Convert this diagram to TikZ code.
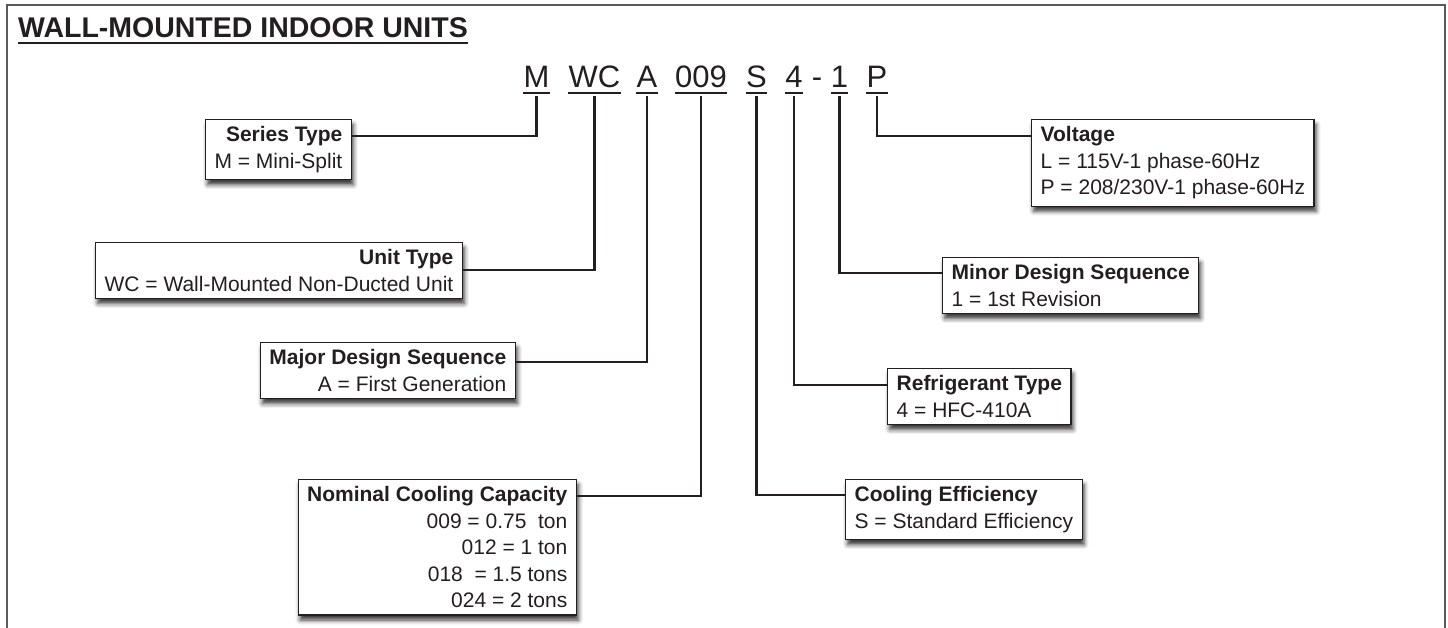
\documentclass[tikz,border=0pt]{standalone}
\usepackage{fontspec}
\setmainfont{Liberation Sans}
\usepackage{xcolor}
\definecolor{ink}{RGB}{35, 31, 32}
\definecolor{framegray}{RGB}{90, 90, 90}
\usepackage{tikz}
\usetikzlibrary{calc, positioning, shadows.blur}

\begin{document}
\begin{tikzpicture}[x=1pt, y=-1pt,
  code/.style={font=\fontsize{31}{31}\selectfont, text=ink, inner xsep=0pt, inner ysep=8pt, anchor=base},
  uline/.style={draw=ink, line width=2.4pt},
  link/.style={draw=ink, line width=2.4pt},
  infobox/.style={draw=ink, line width=1.3pt, fill=white, text=ink, inner xsep=9pt, inner ysep=7pt,
    font=\fontsize{21}{26.5}\selectfont,
    blur shadow={shadow xshift=2pt, shadow yshift=-5pt, shadow blur radius=4.5pt, shadow opacity=80}},
  infoL/.style={infobox, align=right, anchor=north east},
  infoR/.style={infobox, align=left, anchor=north west}]
  \useasboundingbox (0,0) rectangle (1448,628);
  % frame, open at the bottom
  \draw[framegray, line width=2pt] (7,628) -- (7,5) -- (1445,5) -- (1445,628);
  % heading
  \node[font=\fontsize{28.5}{28.5}\selectfont\bfseries, text=ink, inner sep=0pt, anchor=base west] (title) at (18,38) {WALL-MOUNTED INDOOR UNITS};
  \draw[uline] ([yshift=-5pt]title.base west) -- ([yshift=-5pt]title.base east);
  % model number
  \foreach \nm/\txt/\xx in {M/M/536.5, WC/WC/594.5, A/A/647, cap/009/701, S/S/756.5, four/4/794, one/1/839.5, P/P/877} {
    \node[code] (c\nm) at (\xx,88) {\txt};
    \draw[uline] ([yshift=-5pt]c\nm.base west) -- ([yshift=-5pt]c\nm.base east);
  }
  \node[code] (cdash) at (817,88) {-};
  % left boxes
  \node[infoL] (series) at (352,119) {\textbf{Series Type}\\M = Mini-Split};
  \node[infoL] (unit) at (463,242) {\textbf{Unit Type}\\WC = Wall-Mounted Non-Ducted Unit};
  \node[infoL] (major) at (516,342) {\textbf{Major Design Sequence}\\A = First Generation};
  \node[infoL] (nominal) at (577,479) {\textbf{Nominal Cooling Capacity}\\009 = 0.75 \ ton\\012 = 1 ton\\018 \ = 1.5 tons\\024 = 2 tons};
  % right boxes
  \node[infoR] (volt) at (1031,119) {\textbf{Voltage}\\L = 115V-1 phase-60Hz\\P = 208/230V-1 phase-60Hz};
  \node[infoR] (minor) at (942,257) {\textbf{Minor Design Sequence}\\1 = 1st Revision};
  \node[infoR] (refrig) at (887,368) {\textbf{Refrigerant Type}\\4 = HFC-410A};
  \node[infoR] (eff) at (845,479) {\textbf{Cooling Efficiency}\\S = Standard Efficiency};
  % connectors
  \draw[link] (cM.south) |- ([yshift=-17pt]series.north east);
  \draw[link] (cWC.south) |- ([yshift=-28pt]unit.north east);
  \draw[link] (cA.south) |- ([yshift=-20pt]major.north east);
  \draw[link] (ccap.south) |- ([yshift=-17pt]nominal.north east);
  \draw[link] (cS.south) |- ([yshift=-16pt]eff.north west);
  \draw[link] (cfour.south) |- ([yshift=-17pt]refrig.north west);
  \draw[link] (cone.south) |- ([yshift=-16pt]minor.north west);
  \draw[link] (cP.south) |- ([yshift=-17pt]volt.north west);
\end{tikzpicture}
\end{document}
